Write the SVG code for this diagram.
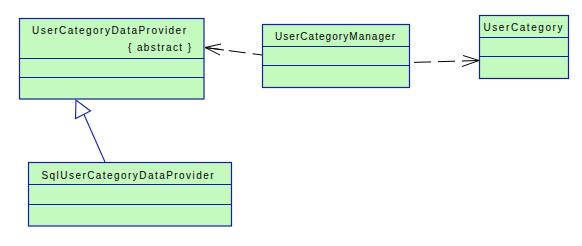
<svg xmlns="http://www.w3.org/2000/svg" width="582" height="246" viewBox="0 0 582 246">
<defs>
<style>
.box{fill:#c4f9c0;stroke:#14209a;stroke-width:1.2}
.div{stroke:#14209a;stroke-width:1.2;fill:none}
.t{font-family:"Liberation Sans",Arial,sans-serif;font-size:10px;fill:#000}
.dep{stroke:#000;stroke-width:1;fill:none;stroke-dasharray:17 7}
.head{stroke:#000;stroke-width:1;fill:none}
.gen{stroke:#14209a;stroke-width:1.1;fill:none}
</style>
</defs>
<rect width="582" height="246" fill="#fff"/>
<g id="UserCategoryDataProvider">
<rect class="box" x="19.5" y="18.5" width="184.5" height="80.5"/>
<line class="div" x1="19.5" y1="58.5" x2="204" y2="58.5"/>
<line class="div" x1="19.5" y1="77.5" x2="204" y2="77.5"/>
<text class="t" x="32" y="33.5" textLength="154" lengthAdjust="spacing">UserCategoryDataProvider</text>
<text class="t" x="128" y="51" textLength="63" lengthAdjust="spacing">{ abstract }</text>
</g>
<g id="UserCategoryManager">
<rect class="box" x="262.5" y="24.5" width="147" height="63"/>
<line class="div" x1="262.5" y1="46.5" x2="409.5" y2="46.5"/>
<line class="div" x1="262.5" y1="65.5" x2="409.5" y2="65.5"/>
<text class="t" x="275" y="40" textLength="120" lengthAdjust="spacing">UserCategoryManager</text>
</g>
<g id="UserCategory">
<rect class="box" x="479.5" y="15.5" width="89" height="63"/>
<line class="div" x1="479.5" y1="37.5" x2="568.5" y2="37.5"/>
<line class="div" x1="479.5" y1="56.5" x2="568.5" y2="56.5"/>
<text class="t" x="483.5" y="30.5" textLength="79" lengthAdjust="spacing">UserCategory</text>
</g>
<g id="SqlUserCategoryDataProvider">
<rect class="box" x="28.5" y="162.5" width="203" height="63.5"/>
<line class="div" x1="28.5" y1="184.5" x2="231.5" y2="184.5"/>
<line class="div" x1="28.5" y1="204.5" x2="231.5" y2="204.5"/>
<text class="t" x="41.5" y="178.5" textLength="172" lengthAdjust="spacing">SqlUserCategoryDataProvider</text>
</g>
<g id="connectors">
<line class="dep" x1="205" y1="47.5" x2="262" y2="55"/>
<polyline class="head" points="221,44 205,47.5 220,55"/>
<line class="head" x1="205" y1="47.5" x2="224" y2="50"/>
<line class="dep" x1="479" y1="60.5" x2="410" y2="62.5"/>
<polyline class="head" points="463,55.5 479,60.5 462,66.5"/>
<line class="gen" x1="84" y1="114.5" x2="105" y2="162"/>
<polygon class="gen" fill="#fff" points="76,100 75.5,118.5 90.5,111"/>
</g>
</svg>
